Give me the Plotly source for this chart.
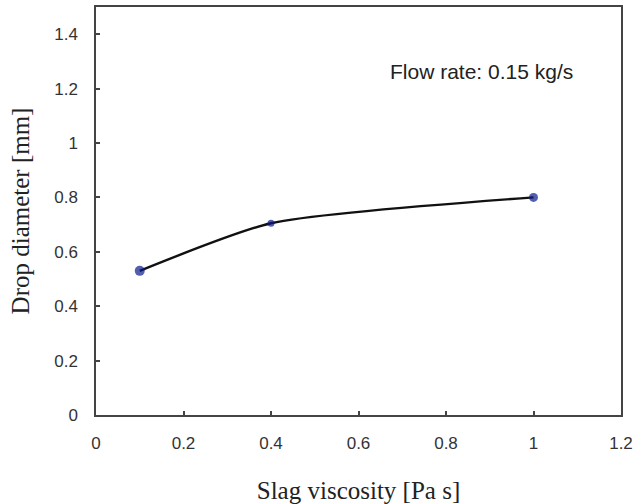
import plotly.graph_objects as go

viscosity = [0.1, 0.4, 1.0]
diameter = [0.53, 0.705, 0.80]
x_ticks = [0, 0.2, 0.4, 0.6, 0.8, 1, 1.2]
y_ticks = [0, 0.2, 0.4, 0.6, 0.8, 1, 1.2, 1.4]

fig = go.Figure()
fig.add_trace(go.Scatter(
    x=viscosity, y=diameter, mode="lines+markers",
    line=dict(color="#111111", width=2.4, shape="spline", smoothing=0.6),
    marker=dict(color="#0a1a8c", size=[10, 7, 9], line=dict(width=0)),
    showlegend=False,
))

tickfont = dict(family="Liberation Sans, Arial, sans-serif", size=17, color="#333333")
titlefont = dict(family="Liberation Serif, Times New Roman, serif", size=25, color="#222222")

fig.update_xaxes(
    range=[0, 1.2], tickvals=x_ticks, ticktext=[f"{v:g}" for v in x_ticks],
    ticks="inside", ticklen=4, tickcolor="#444444", tickwidth=1.5,
    showline=True, linecolor="#444444", linewidth=1.5, mirror=True,
    showgrid=False, zeroline=False, tickfont=tickfont, automargin=False,
    ticklabelstandoff=12, ticklabeloverflow="allow",
    title=dict(text="Slag viscosity [Pa s]", font=titlefont, standoff=33),
)
fig.update_yaxes(
    range=[0, 1.5], tickvals=y_ticks, ticktext=[f"{v:g}" for v in y_ticks],
    ticks="inside", ticklen=4, tickcolor="#444444", tickwidth=1.5,
    showline=True, linecolor="#444444", linewidth=1.5, mirror=True,
    showgrid=False, zeroline=False, tickfont=tickfont, automargin=False,
    ticklabelstandoff=13, ticklabeloverflow="allow",
    title=dict(text="Drop diameter [mm]", font=titlefont, standoff=17),
)

fig.add_annotation(
    x=0.556, xref="paper", y=1.262, yref="y", xanchor="left", yanchor="middle",
    text="Flow rate: 0.15 kg/s", showarrow=False,
    font=dict(family="Liberation Sans, Arial, sans-serif", size=21, color="#222222"),
)

fig.update_layout(
    width=633, height=504,
    margin=dict(l=96, r=12, t=7, b=89),
    plot_bgcolor="white", paper_bgcolor="white",
)

fig.write_html(
    "out.html",
    config={"displayModeBar": False},
    post_script="document.body.style.margin='0';document.body.style.overflow='hidden';",
)
